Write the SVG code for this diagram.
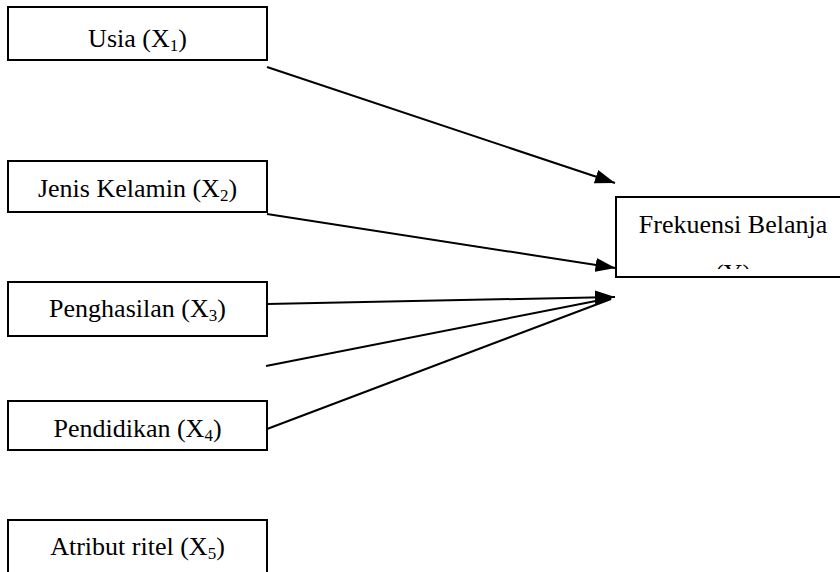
<svg xmlns="http://www.w3.org/2000/svg" width="840" height="572" viewBox="0 0 840 572">
<style>
  .box { fill: #ffffff; stroke: #000000; stroke-width: 2; }
  .lbl { font-family: "Liberation Serif", "Times New Roman", serif; font-size: 26px; fill: #000000; text-anchor: middle; }
  .sub { font-size: 17px; }
  .conn { stroke: #000000; stroke-width: 2; fill: none; }
</style>
<defs>
  <marker id="arrow" viewBox="0 0 20 14" refX="20" refY="7" markerWidth="20" markerHeight="14" markerUnits="userSpaceOnUse" orient="auto">
    <path d="M0,0 L20,7 L0,14 z" fill="#000000"/>
  </marker>
  <clipPath id="yclip">
    <rect x="616" y="197" width="240" height="72"/>
  </clipPath>
</defs>
<rect width="840" height="572" fill="#ffffff"/>

<g id="usia">
  <rect class="box" x="8" y="7" width="259" height="53"/>
  <text class="lbl" x="137.5" y="46.5">Usia (X<tspan class="sub" dy="4">1</tspan><tspan dy="-4">)</tspan></text>
</g>
<g id="jenis-kelamin">
  <rect class="box" x="8" y="161" width="259" height="51"/>
  <text class="lbl" x="137.5" y="196.5">Jenis Kelamin (X<tspan class="sub" dy="4">2</tspan><tspan dy="-4">)</tspan></text>
</g>
<g id="penghasilan">
  <rect class="box" x="8" y="282" width="259" height="54"/>
  <text class="lbl" x="137.5" y="316.5">Penghasilan (X<tspan class="sub" dy="4">3</tspan><tspan dy="-4">)</tspan></text>
</g>
<g id="pendidikan">
  <rect class="box" x="8" y="401" width="259" height="49"/>
  <text class="lbl" x="137.5" y="437">Pendidikan (X<tspan class="sub" dy="4">4</tspan><tspan dy="-4">)</tspan></text>
</g>
<g id="atribut-ritel">
  <rect class="box" x="8" y="520" width="259" height="70"/>
  <text class="lbl" x="137.5" y="555">Atribut ritel (X<tspan class="sub" dy="4">5</tspan><tspan dy="-4">)</tspan></text>
</g>
<g id="frekuensi-belanja">
  <rect class="box" x="616" y="197" width="240" height="80"/>
  <text class="lbl" x="733" y="233">Frekuensi Belanja</text>
  <text class="lbl" x="733" y="282" clip-path="url(#yclip)">(Y)</text>
</g>

<g id="connectors">
  <line class="conn" x1="267" y1="67" x2="615" y2="183" marker-end="url(#arrow)"/>
  <line class="conn" x1="267" y1="214" x2="615.5" y2="268" marker-end="url(#arrow)"/>
  <line class="conn" x1="267" y1="304" x2="615" y2="297" marker-end="url(#arrow)"/>
  <line class="conn" x1="266" y1="366" x2="611" y2="298"/>
  <line class="conn" x1="267" y1="429" x2="611" y2="299"/>
</g>
</svg>
